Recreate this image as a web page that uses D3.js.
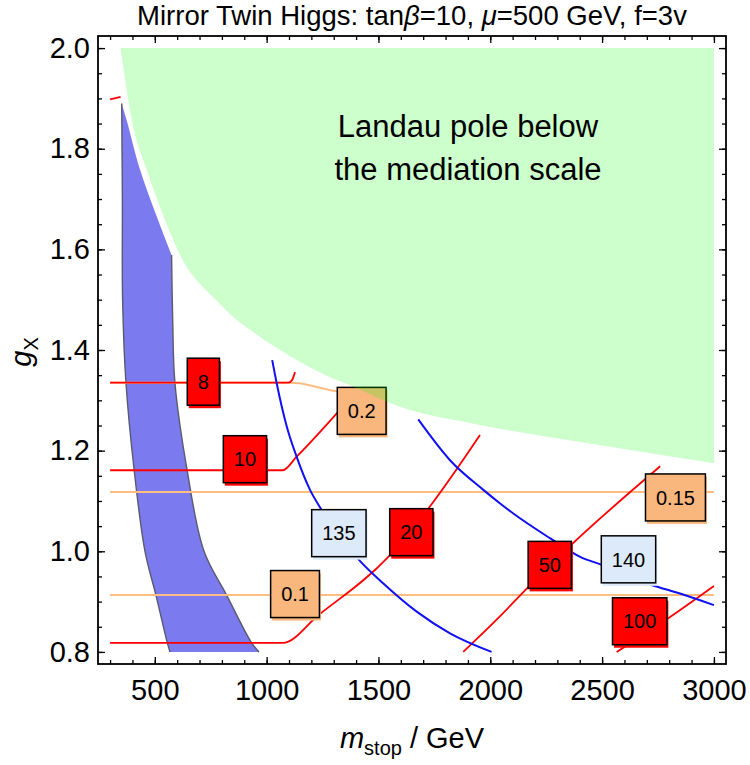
<!DOCTYPE html>
<html>
<head>
<meta charset="utf-8">
<script src="https://cdn.jsdelivr.net/npm/d3@7"></script>
<style>
  body { margin: 0; background: #fff; }
  text { font-family: "Liberation Sans", Arial, sans-serif; }
</style>
</head>
<body>
<script>
// ---- data (m_stop in GeV, g_X) ----
var mTicks = [500, 1000, 1500, 2000, 2500, 3000];
var gTicks = [0.8, 1.0, 1.2, 1.4, 1.6, 1.8, 2.0];

// Landau pole boundary (lower edge of the green region)
var landauM = [347, 397, 464, 546, 613, 775, 866, 926, 1060, 1283, 1373, 1596, 1954, 2402, 3000];
var landauG = [2.0, 1.857, 1.758, 1.658, 1.589, 1.499, 1.46, 1.44, 1.40, 1.346, 1.33, 1.287, 1.251, 1.217, 1.175];

// blue allowed band
var bandLeft = [[352, 1.89], [355, 1.70], [356, 1.50], [371, 1.335], [408, 1.16], [456, 1.0], [505, 0.913], [556, 0.818], [568, 0.80]];
var bandRight = [[966, 0.80], [933, 0.818], [821, 0.913], [720, 1.0], [645, 1.16], [590, 1.335], [580, 1.46], [575, 1.589]];
var bandTop = [[575, 1.589], [515, 1.658], [434, 1.758], [374, 1.857], [352, 1.89]];

// fine-tuning contours (red)
var red8 = [[300, 1.335], [1097, 1.335], [1112, 1.339], [1127, 1.356]];
var red10 = [[300, 1.161], [1072, 1.161], [1134, 1.188], [1373, 1.304]];
var red20 = [[300, 0.818], [1072, 0.818], [1231, 0.873], [1544, 0.989], [1730, 1.089], [1954, 1.231]];
var red50 = [[1879, 0.80], [2044, 0.871], [2163, 0.926], [2353, 1.009], [2760, 1.169]];
var red100 = [[2565, 0.80], [2796, 0.867], [3000, 0.931]];
var redTop = [[300, 1.898], [347, 1.903]];

// orange contours
var orange01 = [[300, 0.913], [3000, 0.913]];
var orange015 = [[300, 1.118], [3000, 1.118]];
var orange02 = [[300, 1.335], [1097, 1.335], [1146, 1.334], [1220, 1.327], [1298, 1.319], [1373, 1.313]];

// Higgs mass contours (blue)
var blue135 = [[1025, 1.38], [1045, 1.334], [1090, 1.248], [1134, 1.188], [1194, 1.122], [1242, 1.085],
               [1417, 0.981], [1522, 0.936], [1671, 0.88], [1820, 0.837], [2006, 0.80]];
var blue140 = [[1678, 1.262], [1820, 1.181], [1969, 1.122], [2044, 1.095], [2103, 1.075], [2267, 1.026],
               [2402, 0.989], [2498, 0.973], [2722, 0.933], [2848, 0.916], [3000, 0.893]];

// contour labels
var labelText = ["8", "10", "20", "50", "100", "0.1", "0.2", "0.15", "135", "140"];
var labelM = [717, 903, 1647, 2266, 2668, 1127, 1425, 2828, 1323, 2618];
var labelG = [1.337, 1.183, 1.038, 0.973, 0.861, 0.915, 1.279, 1.107, 1.036, 0.984];
var labelKind = ["tuning", "tuning", "tuning", "tuning", "tuning", "ratio", "ratio", "ratio", "mh", "mh"];

// ---- chart ----
var w = 750, h = 765;
var frameL = 98, frameR = 726, frameT = 36, frameB = 664;

var svg = d3.select("body").append("svg")
  .attr("width", w)
  .attr("height", h);

var x = d3.scaleLinear().domain([246, 3054]).range([frameL, frameR]);
var y = d3.scaleLinear().domain([0.776, 2.024]).range([frameB, frameT]);

var smooth = d3.line().x(function(d) { return x(d[0]); }).y(function(d) { return y(d[1]); })
  .curve(d3.curveCatmullRom);
var contour = d3.line().x(function(d) { return x(d[0]); }).y(function(d) { return y(d[1]); })
  .curve(d3.curveMonotoneX);

// blue band
var bandPath = smooth(bandLeft) + smooth(bandRight).replace("M", "L") + smooth(bandTop).replace("M", "L") + "Z";
svg.append("path")
  .attr("d", bandPath)
  .attr("fill", "#7b7bef");

svg.append("path").attr("d", smooth(bandLeft))
  .attr("fill", "none").attr("stroke", "#5a5a6e").attr("stroke-width", 1.4);
svg.append("path").attr("d", smooth(bandRight))
  .attr("fill", "none").attr("stroke", "#5a5a6e").attr("stroke-width", 1.4);

// contour lines
var orangeLines = [orange01, orange015, orange02];
var redLines = [red8, red10, red20, red50, red100, redTop];
var blueLines = [blue135, blue140];

svg.selectAll(".orange").data(orangeLines).enter().append("path")
  .attr("class", "orange")
  .attr("d", contour)
  .attr("fill", "none").attr("stroke", "#ffbd82").attr("stroke-width", 2);

svg.selectAll(".red").data(redLines).enter().append("path")
  .attr("class", "red")
  .attr("d", contour)
  .attr("fill", "none").attr("stroke", "#ff0000").attr("stroke-width", 1.8);

svg.selectAll(".blue").data(blueLines).enter().append("path")
  .attr("class", "blue")
  .attr("d", contour)
  .attr("fill", "none").attr("stroke", "#1010f5").attr("stroke-width", 2);

// contour labels
var kindFill = { tuning: "#ff0000", ratio: "#f9b67d", mh: "#dceafa" };
labelText.forEach(function(t, i) {
  var g = svg.append("g")
    .attr("transform", "translate(" + x(labelM[i]) + "," + y(labelG[i]) + ")");
  var txt = g.append("text")
    .attr("text-anchor", "middle")
    .attr("dy", "0.36em")
    .attr("font-size", 20)
    .text(t);
  var bw = txt.node().getComputedTextLength() + 21;
  var bh = 47;
  g.insert("rect", "text")
    .attr("x", -bw / 2 + 1.5).attr("y", -bh / 2 + 3)
    .attr("width", bw).attr("height", bh)
    .attr("fill", kindFill[labelKind[i]]);
  g.insert("rect", "text")
    .attr("x", -bw / 2).attr("y", -bh / 2)
    .attr("width", bw).attr("height", bh)
    .attr("fill", kindFill[labelKind[i]])
    .attr("stroke", "#000").attr("stroke-width", 1.5);
});

// Landau pole region, translucent green on top
var landau = landauM.map(function(m, i) { return [m, landauG[i]]; });
var area = d3.area()
  .x(function(d) { return x(d[0]); })
  .y0(function(d) { return y(d[1]); })
  .y1(y(2.0))
  .curve(d3.curveMonotoneX);
svg.append("path")
  .attr("d", area(landau))
  .attr("fill", "rgb(0,255,0)")
  .attr("fill-opacity", 0.2);

svg.append("text")
  .attr("x", 468).attr("y", 137)
  .attr("text-anchor", "middle")
  .attr("font-size", 31)
  .text("Landau pole below");
svg.append("text")
  .attr("x", 468).attr("y", 180)
  .attr("text-anchor", "middle")
  .attr("font-size", 31)
  .text("the mediation scale");

// axes, ticks pointing inward on all four sides
function styleAxis(g) {
  g.select(".domain").remove();
  g.attr("font-family", "Liberation Sans, Arial, sans-serif").attr("font-size", 29);
  g.selectAll("line").attr("stroke-width", 1.3);
}
var minorM = d3.range(300, 3001, 100);
var minorG = d3.range(0, 25).map(function(i) { return 0.8 + i * 0.05; });

svg.append("g").attr("transform", "translate(0," + frameB + ")")
  .call(d3.axisBottom(x).tickValues(minorM).tickSize(-4).tickFormat("")).call(styleAxis);
svg.append("g").attr("transform", "translate(0," + frameB + ")")
  .call(d3.axisBottom(x).tickValues(mTicks).tickSize(-7).tickPadding(15).tickFormat(d3.format("d"))).call(styleAxis);
svg.append("g").attr("transform", "translate(0," + frameT + ")")
  .call(d3.axisTop(x).tickValues(minorM).tickSize(-4).tickFormat("")).call(styleAxis);
svg.append("g").attr("transform", "translate(0," + frameT + ")")
  .call(d3.axisTop(x).tickValues(mTicks).tickSize(-7).tickFormat("")).call(styleAxis);

svg.append("g").attr("transform", "translate(" + frameL + ",0)")
  .call(d3.axisLeft(y).tickValues(minorG).tickSize(-4).tickFormat("")).call(styleAxis);
svg.append("g").attr("transform", "translate(" + frameL + ",0)")
  .call(d3.axisLeft(y).tickValues(gTicks).tickSize(-7).tickPadding(8).tickFormat(d3.format(".1f"))).call(styleAxis);
svg.append("g").attr("transform", "translate(" + frameR + ",0)")
  .call(d3.axisRight(y).tickValues(minorG).tickSize(-4).tickFormat("")).call(styleAxis);
svg.append("g").attr("transform", "translate(" + frameR + ",0)")
  .call(d3.axisRight(y).tickValues(gTicks).tickSize(-7).tickFormat("")).call(styleAxis);

// frame
svg.append("rect")
  .attr("x", frameL).attr("y", frameT)
  .attr("width", frameR - frameL).attr("height", frameB - frameT)
  .attr("fill", "none").attr("stroke", "#000").attr("stroke-width", 1.8);

// title
var title = svg.append("text")
  .attr("x", (frameL + frameR) / 2).attr("y", 25)
  .attr("text-anchor", "middle")
  .attr("font-size", 27.5);
title.append("tspan").text("Mirror Twin Higgs: tan");
title.append("tspan").attr("font-style", "italic").text("\u03b2");
title.append("tspan").text("=10, ");
title.append("tspan").attr("font-style", "italic").text("\u03bc");
title.append("tspan").text("=500 GeV, f=3v");

// axis titles
var xt = svg.append("text")
  .attr("x", (frameL + frameR) / 2).attr("y", 748)
  .attr("text-anchor", "middle")
  .attr("font-size", 29);
xt.append("tspan").attr("font-style", "italic").text("m");
xt.append("tspan").attr("font-size", 20).attr("dy", 7).text("stop");
xt.append("tspan").attr("dy", -7).text(" / GeV");

var yt = svg.append("text")
  .attr("transform", "translate(31,352) rotate(-90)")
  .attr("text-anchor", "middle")
  .attr("font-size", 29);
yt.append("tspan").attr("font-style", "italic").text("g");
yt.append("tspan").attr("font-size", 20).attr("dy", 7).text("X");
</script>
</body>
</html>
